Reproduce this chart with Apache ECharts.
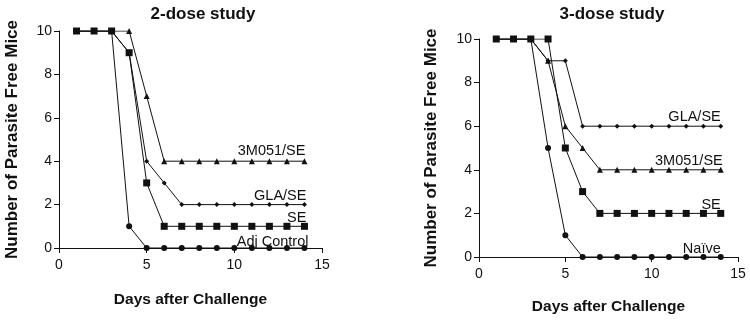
<!DOCTYPE html>
<html>
<head>
<meta charset="utf-8">
<script src="https://cdn.jsdelivr.net/npm/echarts@6/dist/echarts.min.js"></script>
<style>
  html, body { margin: 0; padding: 0; background: #fff; }
  #chart { width: 750px; height: 320px; }
</style>
</head>
<body>
<div id="chart"></div>
<script>
// days after challenge
const days = [1, 2, 3, 4, 5, 6, 7, 8, 9, 10, 11, 12, 13, 14];

// 2-dose study
const twoDoseAdj = [10, 10, 10, 1, 0, 0, 0, 0, 0, 0, 0, 0, 0, 0];
const twoDoseGla = [10, 10, 10, 9, 4, 3, 2, 2, 2, 2, 2, 2, 2, 2];
const twoDose3m = [10, 10, 10, 10, 7, 4, 4, 4, 4, 4, 4, 4, 4, 4];
const twoDoseSe = [10, 10, 10, 9, 3, 1, 1, 1, 1, 1, 1, 1, 1, 1];

// 3-dose study
const threeDoseNaive = [10, 10, 10, 5, 1, 0, 0, 0, 0, 0, 0, 0, 0, 0];
const threeDose3m = [10, 10, 10, 9, 6, 5, 4, 4, 4, 4, 4, 4, 4, 4];
const threeDoseGla = [10, 10, 10, 9, 9, 6, 6, 6, 6, 6, 6, 6, 6, 6];
const threeDoseSe = [10, 10, 10, 10, 5, 3, 2, 2, 2, 2, 2, 2, 2, 2];

const font = 'Liberation Sans, Arial, sans-serif';
const myChart = echarts.init(document.getElementById('chart'));

function axisX(grid, nameGap) {
  return {
    type: 'value', gridIndex: grid, min: 0, max: 15, interval: 5,
    name: 'Days after Challenge', nameLocation: 'middle', nameGap: nameGap,
    nameTextStyle: {fontFamily: font, fontSize: 15.5, fontWeight: 'bold', color: '#111'},
    axisLine: {lineStyle: {color: '#111', width: 1}},
    axisTick: {length: 5, lineStyle: {color: '#111'}},
    axisLabel: {fontFamily: font, fontSize: 14, color: '#111', margin: 10},
    splitLine: {show: false}
  };
}

function axisY(grid, nameGap) {
  return {
    type: 'value', gridIndex: grid, min: 0, max: 10, interval: 2,
    name: 'Number of Parasite Free Mice', nameLocation: 'middle', nameGap: nameGap,
    nameTextStyle: {fontFamily: font, fontSize: 17, fontWeight: 'bold', color: '#111'},
    axisLine: {show: true, lineStyle: {color: '#111', width: 1}},
    axisTick: {show: true, length: 5, lineStyle: {color: '#111'}},
    axisLabel: {fontFamily: font, fontSize: 14, color: '#111', margin: 7},
    splitLine: {show: false}
  };
}

function line(name, values, grid, symbol, size, labelOffset) {
  return {
    name: name, type: 'line', xAxisIndex: grid, yAxisIndex: grid,
    data: values.map((v, i) => {
      const point = [days[i], v];
      if (i === values.length - 1) {
        return {
          value: point,
          label: {
            show: true, formatter: name, position: 'top', align: 'right',
            offset: labelOffset, fontFamily: font, fontSize: 14.5, color: '#111'
          }
        };
      }
      return point;
    }),
    symbol: symbol, symbolSize: size,
    lineStyle: {color: '#111', width: 1},
    itemStyle: {color: '#111'},
    animation: false
  };
}

var option = {
  title: [
    {text: '2-dose study', left: 198, top: 1, textAlign: 'center',
     textStyle: {fontFamily: font, fontSize: 17, fontWeight: 'bold', color: '#111'}},
    {text: '3-dose study', left: 607, top: 1, textAlign: 'center',
     textStyle: {fontFamily: font, fontSize: 17, fontWeight: 'bold', color: '#111'}}
  ],
  grid: [
    {left: 59, right: 428, top: 31, bottom: 72},
    {left: 479, right: 12, top: 39, bottom: 61}
  ],
  xAxis: [axisX(0, 44), axisX(1, 42)],
  yAxis: [axisY(0, 38), axisY(1, 39)],
  series: [
    line('Adj Control', twoDoseAdj, 0, 'circle', 6, [4, 9]),
    line('GLA/SE', twoDoseGla, 0, 'diamond', 5, [2, 6]),
    line('3M051/SE', twoDose3m, 0, 'triangle', 6, [1, 5]),
    line('SE', twoDoseSe, 0, 'rect', 7, [2, 8]),
    line('Naïve', threeDoseNaive, 1, 'circle', 6, [0, 7]),
    line('3M051/SE', threeDose3m, 1, 'triangle', 6, [2, 7]),
    line('GLA/SE', threeDoseGla, 1, 'diamond', 5, [0, 6]),
    line('SE', threeDoseSe, 1, 'rect', 7, [0, 8])
  ]
};

myChart.setOption(option);
</script>
</body>
</html>
